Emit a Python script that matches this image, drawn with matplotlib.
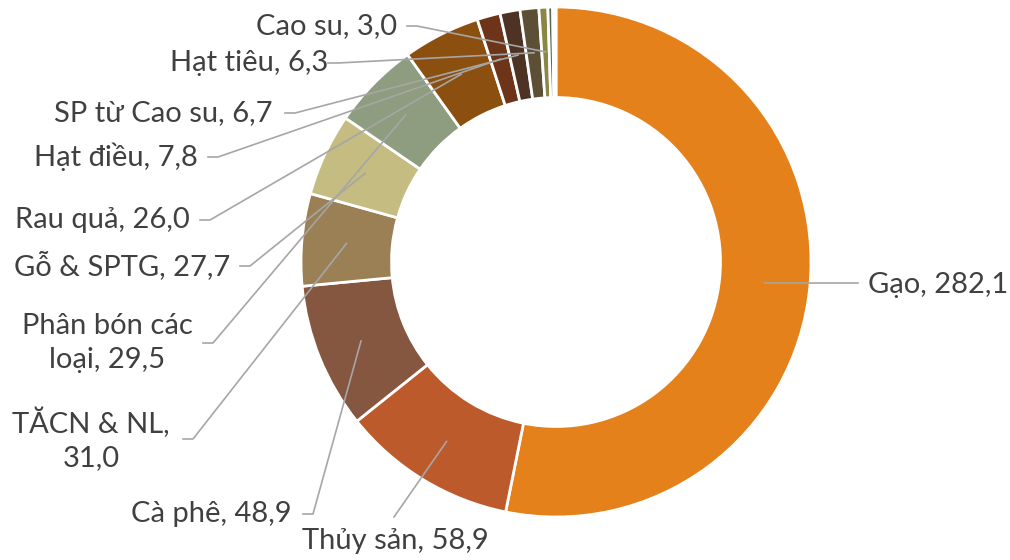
import numpy as np
import matplotlib
matplotlib.use('Agg')
import matplotlib.pyplot as plt

# values (last two slices have no label)
labels = ['Gạo, 282,1', 'Thủy sản, 58,9', 'Cà phê, 48,9', 'TĂCN & NL,\n31,0',
          'Gỗ & SPTG, 27,7', 'Phân bón các\nloại, 29,5', 'Rau quả, 26,0',
          'Hạt điều, 7,8', 'SP từ Cao su, 6,7', 'Hạt tiêu, 6,3', 'Cao su, 3,0', '', '']
values = [282.1, 58.9, 48.9, 31.0, 27.7, 29.5, 26.0, 7.8, 6.7, 6.3, 3.0, 1.6, 1.1]
colors = ['#E4811A', '#BD5A2C', '#855640', '#9B8055', '#C4BC80', '#8E9C80', '#8B4F0F',
          '#6E3419', '#4E3324', '#5C4F36', '#8B8645', '#5B6650', '#FFFFFF']

# label anchor (pixel coords of the 1010x560 picture), alignment, elbow x
label_pos = [(868, 285, 'left', 858), (302, 541, 'left', None), (292, 514, 'right', 313),
             (91, 439, 'center', 193), (230, 266, 'right', 250), (107, 343, 'center', 213),
             (190, 220, 'right', 210), (198, 157, 'right', 218), (273, 113, 'right', 295),
             (328, 63, 'right', 338), (397, 26, 'right', 417)]

cx, cy, R = 556, 262, 255


def px(x, y):
    return (x - cx) / R, (cy - y) / R


fig = plt.figure(figsize=(10.1, 5.6), dpi=100)
ax = fig.add_axes([0, 0, 1, 1])
wedges, _ = ax.pie(values, colors=colors, startangle=90, counterclock=False,
                   radius=1.0, wedgeprops=dict(width=0.355, edgecolor='white', linewidth=2))
ax.set_xlim(-cx / R, (1010 - cx) / R)
ax.set_ylim(-(560 - cy) / R, cy / R)
ax.set_aspect('equal')
ax.axis('off')

line_col = '#A6A6A6'
for i, (x, y, ha, ex) in enumerate(label_pos):
    w = wedges[i]
    mid = np.deg2rad((w.theta1 + w.theta2) / 2)
    p0 = (0.825 * np.cos(mid), 0.825 * np.sin(mid))
    tx, ty = px(x, y)
    if i == 0:
        ax.plot([p0[0], px(ex, y)[0]], [p0[1], p0[1]], color=line_col, lw=1.2)
    elif i == 1:
        ax.plot([p0[0], px(394, 517)[0]], [p0[1], px(394, 517)[1]], color=line_col, lw=1.2)
    else:
        e1 = px(ex - 10, y)
        e2 = px(ex, y)
        ax.plot([e1[0], e2[0], p0[0]], [e1[1], e2[1], p0[1]], color=line_col, lw=1.2)
    ax.text(tx, ty, labels[i], ha=ha, va='center', fontsize=21, color='#404040',
            family='Lato', linespacing=1.35)

fig.savefig('out.png', dpi=100)
